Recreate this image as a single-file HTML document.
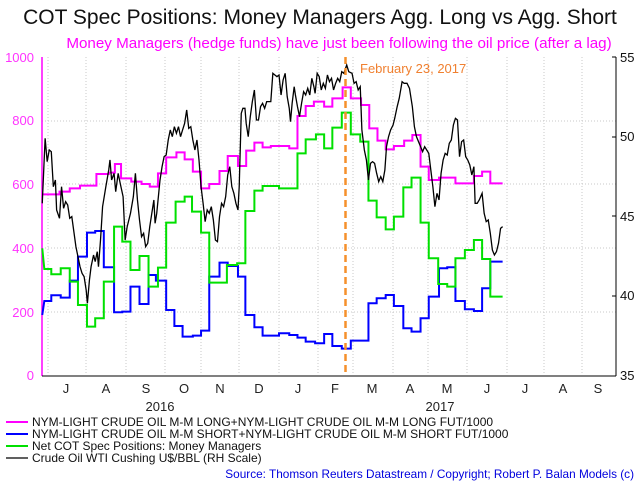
<!DOCTYPE html>
<html><head><style>
body{margin:0;background:#fff;}
svg{display:block;font-family:"Liberation Sans",Arial,sans-serif;}
</style></head><body>
<svg width="640" height="482" viewBox="0 0 640 482">
<text x="320" y="24" font-size="21" text-anchor="middle" fill="#111">COT Spec Positions: Money Managers Agg. Long vs Agg. Short</text>
<text x="339" y="48" font-size="15.2" text-anchor="middle" fill="#ff00ff">Money Managers (hedge funds) have just been following the oil price (after a lag)</text>
<g stroke="#c8c8c8" stroke-dasharray="1,2" stroke-width="1">
<line x1="42" x2="616" y1="121" y2="121"/><line x1="42" x2="616" y1="184" y2="184"/><line x1="42" x2="616" y1="248" y2="248"/><line x1="42" x2="616" y1="312" y2="312"/>
<line x1="48" x2="48" y1="57" y2="375"/><line x1="86" x2="86" y1="57" y2="375"/><line x1="126" x2="126" y1="57" y2="375"/><line x1="165" x2="165" y1="57" y2="375"/><line x1="201" x2="201" y1="57" y2="375"/><line x1="239" x2="239" y1="57" y2="375"/><line x1="279" x2="279" y1="57" y2="375"/><line x1="318" x2="318" y1="57" y2="375"/><line x1="353" x2="353" y1="57" y2="375"/><line x1="393" x2="393" y1="57" y2="375"/><line x1="428" x2="428" y1="57" y2="375"/><line x1="467" x2="467" y1="57" y2="375"/><line x1="507" x2="507" y1="57" y2="375"/><line x1="544" x2="544" y1="57" y2="375"/><line x1="582" x2="582" y1="57" y2="375"/>
</g>
<line x1="42" x2="42" y1="57" y2="376" stroke="#ff00ff" stroke-width="1.5"/>
<line x1="616" x2="616" y1="57" y2="376" stroke="#000" stroke-width="1"/>
<line x1="42" x2="616" y1="376" y2="376" stroke="#000" stroke-width="1"/>
<g font-size="13" fill="#ff33ff" text-anchor="end">
<text x="34" y="62">1000</text><text x="34" y="125">800</text><text x="34" y="189">600</text><text x="34" y="253">400</text><text x="34" y="317">200</text><text x="34" y="380">0</text></g>
<g font-size="13" fill="#111">
<text x="620" y="62">55</text><text x="620" y="141">50</text><text x="620" y="221">45</text><text x="620" y="300">40</text><text x="620" y="380">35</text></g>
<g stroke="#000"><line x1="616" x2="612" y1="57" y2="57"/><line x1="616" x2="612" y1="137" y2="137"/><line x1="616" x2="612" y1="216" y2="216"/><line x1="616" x2="612" y1="296" y2="296"/></g>
<g transform="translate(0,40) scale(0.4103,0.3333)" fill="none" stroke-linejoin="miter">
<polyline vector-effect="non-scaling-stroke" stroke="#ff00ff" stroke-width="2" points="105,463 145,463 145,455 170,455 170,445 195,445 195,437 235,437 235,402 265,402 265,398 280,398 280,372 295,372 295,415 320,415 320,425 345,425 345,432 365,432 365,440 385,440 385,400 405,400 405,352 430,352 430,337 450,337 450,358 470,358 470,395 490,395 490,445 510,445 510,432 535,432 535,393 555,393 555,348 580,348 580,378 600,378 600,332 620,332 620,308 640,308 640,322 660,322 660,318 705,318 705,325 725,325 725,228 745,228 745,198 765,198 765,185 790,185 790,200 810,200 810,175 835,175 835,142 855,142 855,175 880,175 880,195 900,195 900,265 920,265 920,302 940,302 940,328 960,328 960,318 985,318 985,302 1005,302 1005,285 1025,285 1025,380 1045,380 1045,420 1070,420 1070,413 1110,413 1110,430 1155,430 1155,408 1175,408 1175,395 1195,395 1195,430 1225,430"/>
<polyline vector-effect="non-scaling-stroke" stroke="#0000ff" stroke-width="2" points="103,825 108,783 125,783 125,766 148,766 148,773 170,773 170,722 190,722 190,650 212,650 212,578 232,578 232,573 253,573 253,682 278,682 278,817 298,817 298,815 318,815 318,740 340,740 340,792 362,792 362,705 380,705 380,722 405,722 405,810 425,810 425,858 445,858 445,890 470,890 470,887 490,887 490,872 510,872 510,710 535,710 535,668 555,668 555,678 580,678 580,710 598,710 598,825 620,825 620,862 640,862 640,887 680,887 680,880 705,880 705,885 725,885 725,893 745,893 745,905 768,905 768,910 790,910 790,882 810,882 810,918 833,918 833,926 855,926 855,902 898,902 898,790 918,790 918,775 940,775 940,765 960,765 960,798 983,798 983,865 1003,865 1003,875 1025,875 1025,835 1045,835 1045,770 1070,770 1070,685 1090,685 1090,682 1110,682 1110,783 1133,783 1133,808 1155,808 1155,813 1175,813 1175,745 1195,745 1195,665 1225,665"/>
<polyline vector-effect="non-scaling-stroke" stroke="#00e000" stroke-width="2" points="103,625 108,687 125,687 125,703 148,703 148,685 170,685 170,725 190,725 190,795 212,795 212,860 232,860 232,835 253,835 253,725 278,725 278,560 298,560 298,605 318,605 318,690 340,690 340,648 362,648 362,740 385,740 385,683 405,683 405,548 428,548 428,485 450,485 450,470 468,470 468,515 490,515 490,578 510,578 510,728 553,728 553,675 578,675 578,670 598,670 598,513 620,513 620,452 640,452 640,438 680,438 680,445 725,445 725,340 745,340 745,298 770,298 770,283 790,283 790,325 810,325 810,263 833,263 833,218 855,218 855,283 878,283 878,305 898,305 898,482 918,482 918,532 940,532 940,568 960,568 960,530 983,530 983,442 1003,442 1003,413 1025,413 1025,548 1045,548 1045,655 1068,655 1068,732 1090,732 1090,740 1110,740 1110,655 1133,655 1133,630 1155,630 1155,600 1175,600 1175,657 1195,657 1195,770 1225,770"/>
<polyline vector-effect="non-scaling-stroke" stroke="#000" stroke-width="1.3" points="103,490 110,295 115,365 120,330 125,335 130,440 135,420 138,510 145,535 150,440 155,505 160,485 165,495 170,535 175,530 180,575 185,620 190,650 195,680 200,700 205,710 210,750 213,790 218,720 222,680 228,645 232,665 237,635 240,680 245,600 250,500 258,440 265,390 268,360 272,420 278,400 282,455 288,400 293,430 300,470 305,600 310,560 318,520 325,470 330,400 335,480 340,540 345,590 350,580 355,620 360,610 365,560 370,520 375,480 378,550 382,520 386,470 390,420 395,380 400,350 405,345 410,300 415,270 420,290 425,260 430,280 435,260 440,290 445,270 450,250 455,210 460,265 465,260 470,300 475,330 480,300 485,360 490,440 495,490 500,545 505,510 510,520 515,500 520,540 525,600 530,605 535,530 540,490 545,500 550,470 555,405 560,380 565,440 570,460 575,490 580,510 583,440 588,220 592,205 597,205 600,250 605,290 610,230 615,185 620,150 625,240 630,240 635,200 640,190 645,205 650,185 660,185 665,100 670,105 675,110 680,105 685,165 690,120 695,100 700,170 705,205 708,245 712,190 717,140 720,165 725,200 730,230 735,190 740,155 745,165 750,145 755,165 760,115 765,140 768,160 773,100 778,110 783,150 788,130 793,145 798,105 803,125 808,115 813,150 818,130 823,115 828,125 833,95 838,100 845,75 850,95 858,100 863,130 868,125 873,150 878,140 882,270 888,330 893,360 898,420 903,370 908,365 913,370 918,400 923,425 928,410 933,425 938,390 942,320 947,290 952,270 958,255 962,235 968,200 973,175 980,125 985,130 992,130 998,145 1005,200 1010,260 1015,290 1020,305 1025,320 1030,335 1035,320 1040,330 1045,340 1050,390 1055,440 1060,500 1065,460 1070,480 1075,400 1080,360 1085,340 1090,345 1095,310 1100,300 1105,255 1110,235 1115,240 1120,350 1125,305 1130,300 1135,350 1140,360 1145,375 1150,405 1155,380 1158,490 1163,490 1168,480 1175,460 1180,520 1185,545 1190,540 1195,580 1200,630 1205,645 1210,635 1215,610 1220,565 1225,560"/>
</g>
<line x1="345.5" x2="345.5" y1="57" y2="376" stroke="#f5902c" stroke-width="2.5" stroke-dasharray="7,4"/>
<text x="360" y="73" font-size="13" fill="#f08030">February 23, 2017</text>
<g font-size="13" fill="#222" text-anchor="middle">
<text x="66" y="393">J</text><text x="106" y="393">A</text><text x="146" y="393">S</text><text x="184" y="393">O</text><text x="220" y="393">N</text><text x="259" y="393">D</text><text x="298" y="393">J</text><text x="335" y="393">F</text><text x="372" y="393">M</text><text x="410" y="393">A</text><text x="447" y="393">M</text><text x="487" y="393">J</text><text x="525" y="393">J</text><text x="563" y="393">A</text><text x="598" y="393">S</text>
<text x="160" y="411">2016</text><text x="440" y="411">2017</text></g>
<g font-size="12" fill="#111">
<line x1="6" x2="28" y1="422" y2="422" stroke="#ff00ff" stroke-width="2"/><text x="32" y="426">NYM-LIGHT CRUDE OIL M-M LONG+NYM-LIGHT CRUDE OIL M-M LONG FUT/1000</text>
<line x1="6" x2="28" y1="434" y2="434" stroke="#0000ff" stroke-width="2"/><text x="32" y="438">NYM-LIGHT CRUDE OIL M-M SHORT+NYM-LIGHT CRUDE OIL M-M SHORT FUT/1000</text>
<line x1="6" x2="28" y1="446" y2="446" stroke="#00e000" stroke-width="2"/><text x="32" y="450">Net COT Spec Positions: Money Managers</text>
<line x1="6" x2="28" y1="458" y2="458" stroke="#000" stroke-width="1.3"/><text x="32" y="462">Crude Oil WTI Cushing U$/BBL (RH Scale)</text>
</g>
<text x="634" y="478" font-size="11.8" fill="#0000dd" text-anchor="end">Source: Thomson Reuters Datastream / Copyright; Robert P. Balan Models (c)</text>
</svg>
</body></html>
